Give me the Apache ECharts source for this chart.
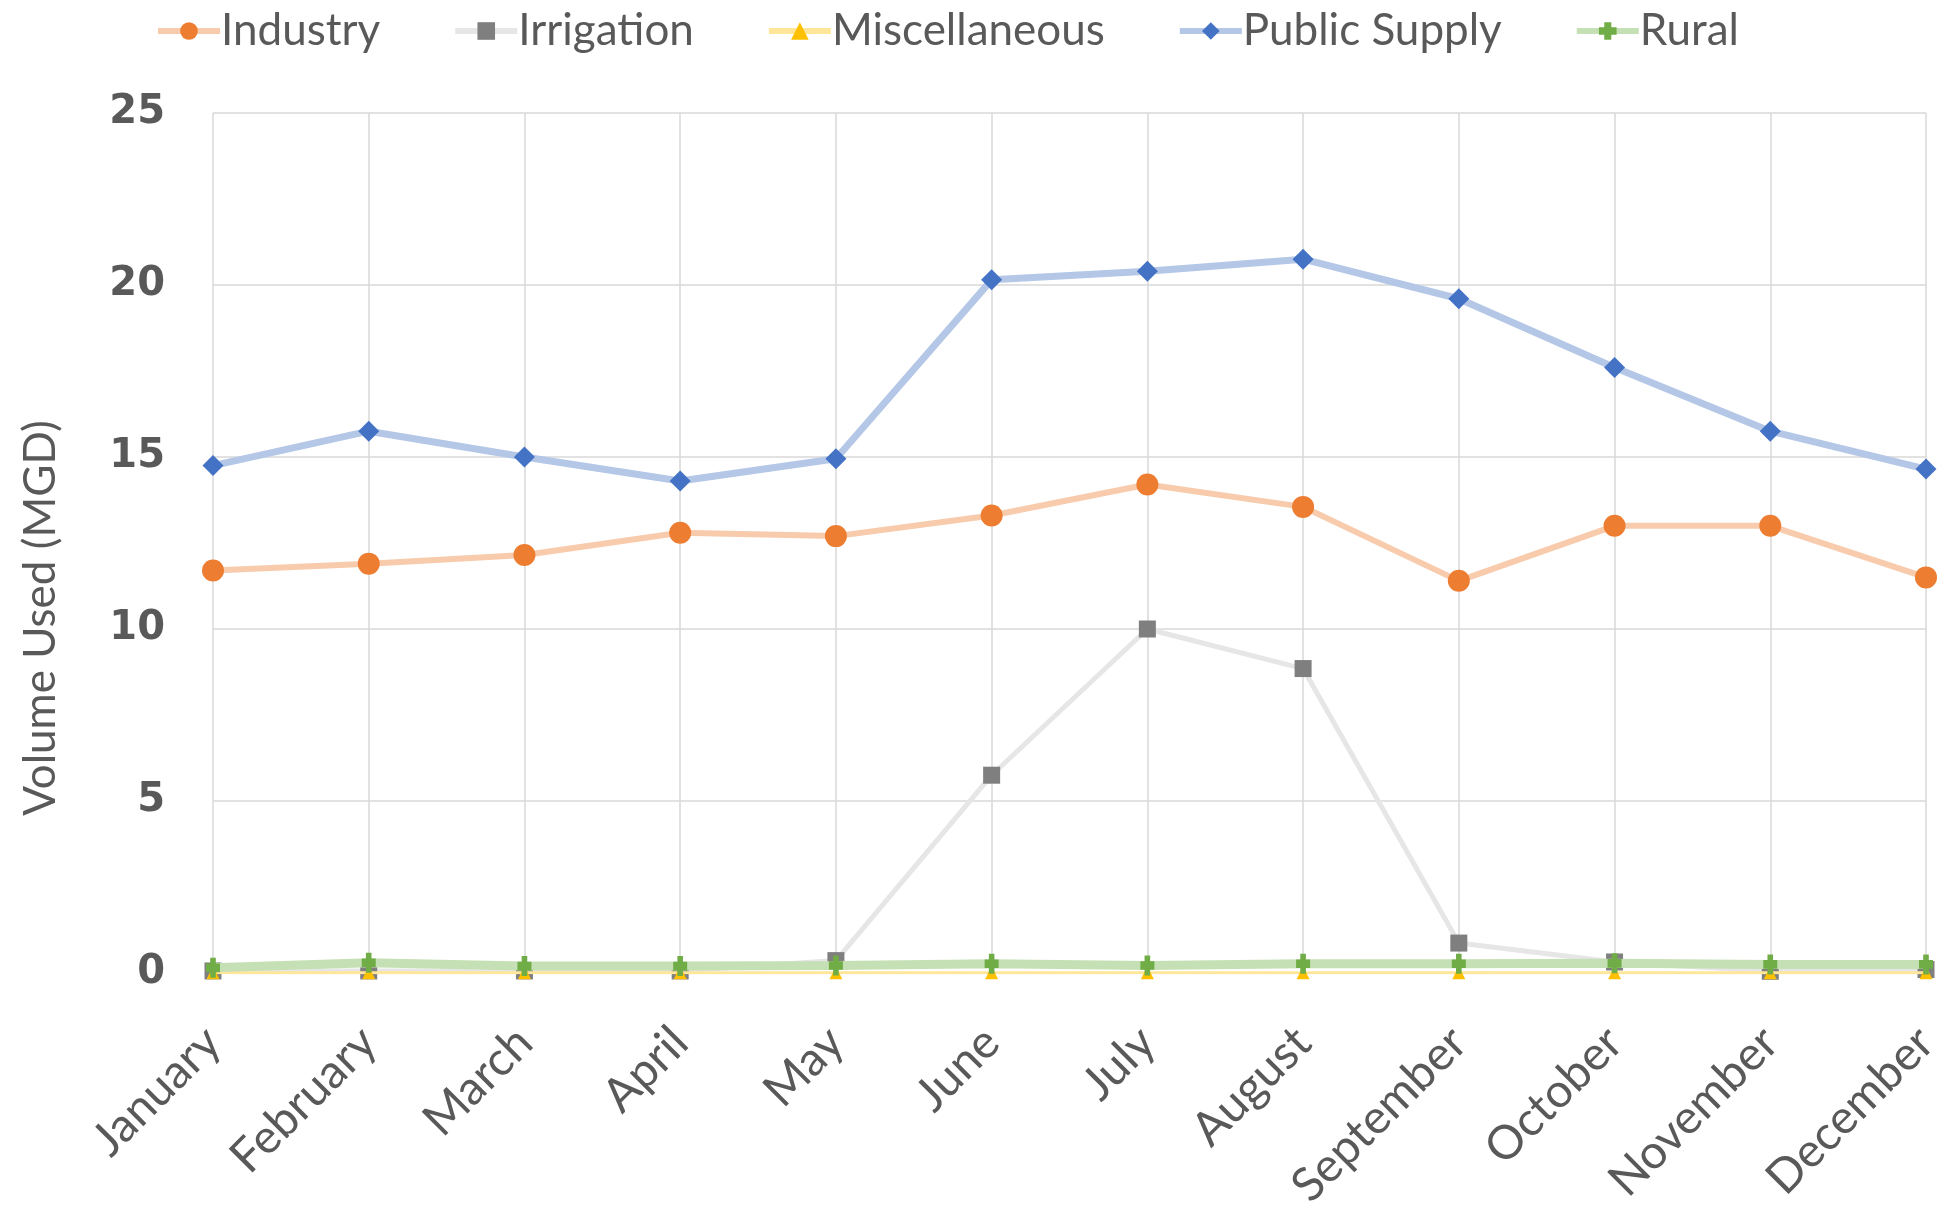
<!DOCTYPE html>
<html><head><meta charset="utf-8">
<script src="https://cdn.jsdelivr.net/npm/echarts@6/dist/echarts.min.js"></script>
<style>html,body{margin:0;padding:0;background:#fff}#c{width:1946px;height:1212px}</style>
</head><body><div id="c"></div>
<script>
const months = ['January','February','March','April','May','June','July','August','September','October','November','December'];
const industry = [11.7, 11.9, 12.15, 12.8, 12.7, 13.3, 14.2, 13.55, 11.4, 13.0, 13.0, 11.5];
const irrigation = [0.06, 0.06, 0.06, 0.06, 0.36, 5.75, 10.0, 8.85, 0.87, 0.32, 0.05, 0.1];
const miscellaneous = [0.01, 0.01, 0.01, 0.01, 0.01, 0.01, 0.01, 0.01, 0.01, 0.01, 0.01, 0.01];
const publicSupply = [14.75, 15.75, 15.0, 14.3, 14.95, 20.15, 20.4, 20.75, 19.6, 17.6, 15.75, 14.65];
const rural = [0.15, 0.3, 0.2, 0.2, 0.22, 0.27, 0.22, 0.27, 0.27, 0.28, 0.25, 0.25];
const yTicks = [0, 5, 10, 15, 20, 25];

const txt = '#595959';
const ruralMarker = 'path://M3,0 L7,0 L7,4 L10,4 L10,10 L7,10 L7,14 L3,14 L3,10 L0,10 L0,4 L3,4 Z';
function line(name, data, lineColor, lw, markColor, symbol, size, z) {
  return {
    name, type: 'line', data, z,
    symbol, symbolSize: size,
    lineStyle: {color: lineColor, width: lw},
    itemStyle: {color: markColor, borderWidth: 0},
    emphasis: {disabled: true},
    animation: false
  };
}
const chart = echarts.init(document.getElementById('c'));
chart.setOption({
  animation: false,
  textStyle: {fontFamily: 'Lato'},
  legend: {
    top: 4, left: 150,
    itemWidth: 62, itemHeight: 22, itemGap: 72,
    lineStyle: {width: 6},
    textStyle: {color: txt, fontSize: 44, fontFamily: 'Lato', padding: [0, 0, 0, -4]},
    data: ['Industry','Irrigation','Miscellaneous','Public Supply','Rural']
  },
  grid: {left: 213, right: 20, top: 113, bottom: 239, containLabel: false, outerBoundsMode: 'none'},
  xAxis: {
    type: 'category', data: months, boundaryGap: false,
    axisLine: {show: false}, axisTick: {show: false},
    splitLine: {show: true, lineStyle: {color: '#d9d9d9', width: 1.5}},
    axisLabel: {rotate: 45, color: txt, fontSize: 47, fontFamily: 'Lato', margin: 62, interval: 0}
  },
  yAxis: {
    type: 'value', min: 0, max: 25, interval: 5,
    name: 'Volume Used (MGD)', nameLocation: 'middle', nameGap: 150,
    nameTextStyle: {color: txt, fontSize: 44, fontFamily: 'Lato', padding: [0, 150, 0, 0]},
    axisLine: {show: false}, axisTick: {show: false},
    splitLine: {lineStyle: {color: '#d9d9d9', width: 1.5}},
    axisLabel: {color: txt, fontSize: 40, fontWeight: 'bold', fontFamily: 'DejaVu Sans', margin: 48,
      formatter: v => yTicks.includes(v) ? String(v) : ''}
  },
  series: [
    line('Industry', industry, '#f8cbad', 6, '#ED7D31', 'circle', 22, 2),
    line('Irrigation', irrigation, '#e7e6e6', 5, '#7f7f7f', 'rect', 17, 3),
    line('Miscellaneous', miscellaneous, '#ffe699', 3, '#FFC000', 'triangle', 13, 4),
    line('Public Supply', publicSupply, '#b4c7e7', 7, '#4472C4', 'diamond', 21, 5),
    line('Rural', rural, '#c5e0b4', 9, '#70AD47', ruralMarker, [14, 20], 6)
  ]
});
</script></body></html>
